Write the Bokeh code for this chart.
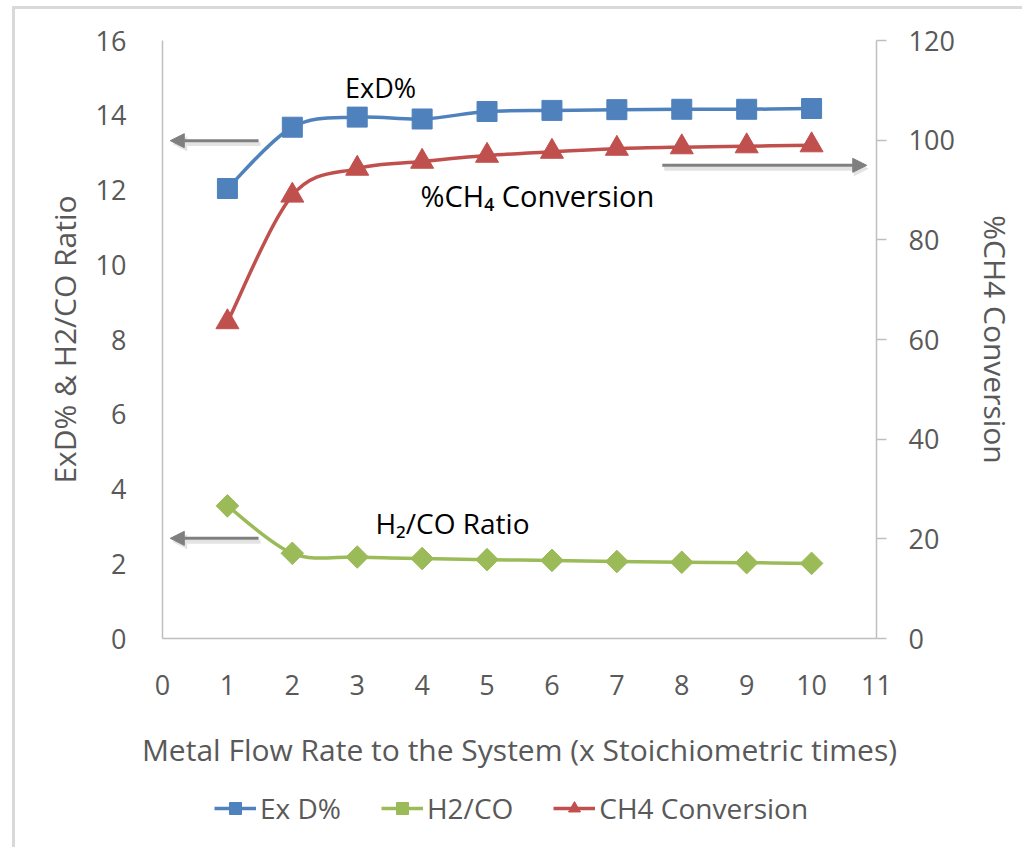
from bokeh.plotting import figure
from bokeh.models import (Range1d, LinearAxis, FixedTicker, Legend, LegendItem,
                          Arrow, NormalHead, Label, ColumnDataSource)
from bokeh.layouts import column
from bokeh.embed import file_html
from bokeh.resources import INLINE
import math

# ---- data ----
flow_rate = [1, 2, 3, 4, 5, 6, 7, 8, 9, 10]
exd_pct = [12.04, 13.68, 13.95, 13.90, 14.10, 14.13, 14.15, 14.16, 14.16, 14.18]
h2_co = [3.55, 2.28, 2.18, 2.14, 2.11, 2.09, 2.06, 2.04, 2.03, 2.01]
ch4_conv = [63.5, 88.9, 94.3, 95.7, 96.9, 97.7, 98.3, 98.6, 98.8, 99.0]

x_ticks = list(range(0, 12))
left_ticks = list(range(0, 17, 2))
right_ticks = list(range(0, 121, 20))

series_names = ["Ex D%", "H2/CO", "CH4 Conversion"]
x_title = "Metal Flow Rate to the System (x Stoichiometric times)"
left_title = "ExD% & H2/CO Ratio"
right_title = "%CH4 Conversion"

BLUE = "#4f81bd"
GREEN = "#9bbb59"
RED = "#c0504d"
AXIS_GRAY = "#bfbfbf"
TEXT_GRAY = "#595959"
FONT = "Open Sans"


def smooth_source(xs, ys):
    """Bezier segments (Catmull-Rom style) passing through the data points."""
    n = len(xs)
    d = dict(x0=[], y0=[], x1=[], y1=[], cx0=[], cy0=[], cx1=[], cy1=[])
    for i in range(n - 1):
        im1 = max(i - 1, 0)
        ip2 = min(i + 2, n - 1)
        d["x0"].append(xs[i]); d["y0"].append(ys[i])
        d["x1"].append(xs[i + 1]); d["y1"].append(ys[i + 1])
        d["cx0"].append(xs[i] + (xs[i + 1] - xs[im1]) / 6)
        d["cy0"].append(ys[i] + (ys[i + 1] - ys[im1]) / 6)
        d["cx1"].append(xs[i + 1] - (xs[ip2] - xs[i]) / 6)
        d["cy1"].append(ys[i + 1] - (ys[ip2] - ys[i]) / 6)
    return ColumnDataSource(d)


p = figure(frame_width=714, frame_height=598, x_range=Range1d(0, 11),
           y_range=Range1d(0, 16),
           output_backend="svg", toolbar_location=None,
           min_border_left=162, min_border_right=146, min_border_top=40,
           min_border_bottom=150)
p.extra_y_ranges = {"right": Range1d(0, 120)}
p.outline_line_color = None
p.xgrid.visible = False
p.ygrid.visible = False
p.background_fill_color = None
p.border_fill_color = None
p.styles = {
    "background-color": "white",
    "background-image": "linear-gradient(#d9d9d9, #d9d9d9), linear-gradient(#d9d9d9, #d9d9d9)",
    "background-size": "3px 100%, 100% 3px",
    "background-position": "12px 6px, 12px 6px",
    "background-repeat": "no-repeat",
}

# axes
xa = p.xaxis[0]
xa.ticker = FixedTicker(ticks=x_ticks)
ya = p.yaxis[0]
ya.ticker = FixedTicker(ticks=left_ticks)
for ax in (xa, ya):
    ax.axis_line_color = AXIS_GRAY
    ax.axis_line_width = 1.5
    ax.major_tick_line_color = None
    ax.minor_tick_line_color = None
    ax.major_label_text_font = FONT
    ax.major_label_text_font_size = "27px"
    ax.major_label_text_color = TEXT_GRAY
    ax.axis_label_text_font = FONT
    ax.axis_label_text_font_size = "30px"
    ax.axis_label_text_color = TEXT_GRAY
    ax.axis_label_text_font_style = "normal"
xa.axis_label = x_title
xa.major_label_standoff = 30
xa.axis_label_standoff = 31
ya.axis_label = left_title
ya.major_label_standoff = 30
ya.axis_label_standoff = 8

ra = LinearAxis(y_range_name="right", ticker=FixedTicker(ticks=right_ticks),
                axis_label=right_title)
ra.axis_line_color = AXIS_GRAY
ra.axis_line_width = 1.5
ra.major_tick_line_color = AXIS_GRAY
ra.major_tick_line_width = 1.5
ra.major_tick_out = 10
ra.major_tick_in = 0
ra.minor_tick_line_color = None
ra.major_label_text_font = FONT
ra.major_label_text_font_size = "27px"
ra.major_label_text_color = TEXT_GRAY
ra.major_label_standoff = 22
ra.axis_label_text_font = FONT
ra.axis_label_text_font_size = "30px"
ra.axis_label_text_color = TEXT_GRAY
ra.axis_label_text_font_style = "normal"
ra.axis_label_standoff = 17
p.add_layout(ra, "right")

# series
p.bezier(x0="x0", y0="y0", x1="x1", y1="y1", cx0="cx0", cy0="cy0",
         cx1="cx1", cy1="cy1", source=smooth_source(flow_rate, exd_pct),
         line_color=BLUE, line_width=3.5)
p.scatter(flow_rate, exd_pct, marker="square", size=20, fill_color=BLUE,
          line_color=BLUE)
p.bezier(x0="x0", y0="y0", x1="x1", y1="y1", cx0="cx0", cy0="cy0",
         cx1="cx1", cy1="cy1", source=smooth_source(flow_rate, h2_co),
         line_color=GREEN, line_width=3.5)
p.scatter(flow_rate, h2_co, marker="square", angle=math.pi / 4, size=16,
          fill_color=GREEN, line_color=GREEN)
p.bezier(x0="x0", y0="y0", x1="x1", y1="y1", cx0="cx0", cy0="cy0",
         cx1="cx1", cy1="cy1", source=smooth_source(flow_rate, ch4_conv),
         line_color=RED, line_width=3.5, y_range_name="right")
p.scatter(flow_rate, ch4_conv, marker="triangle", size=23, fill_color=RED,
          line_color=RED, y_range_name="right")

# annotation arrows (soft shadow first, then the arrow)
ARROW_GRAY = "#7f7f7f"
arrows = [(1.48, 13.32, 0.12, 13.32), (7.70, 12.66, 10.85, 12.66),
          (1.48, 2.68, 0.12, 2.68)]
for xs, ys, xe, ye in arrows:
    p.add_layout(Arrow(x_start=xs + 0.03, y_start=ys - 0.09, x_end=xe + 0.03,
                       y_end=ye - 0.09, line_color="#d0d0d0", line_width=4,
                       line_alpha=0.6,
                       end=NormalHead(size=15, fill_color="#d0d0d0",
                                      fill_alpha=0.6, line_color=None)))
    p.add_layout(Arrow(x_start=xs, y_start=ys, x_end=xe, y_end=ye,
                       line_color=ARROW_GRAY, line_width=3,
                       end=NormalHead(size=14, fill_color=ARROW_GRAY,
                                      line_color=ARROW_GRAY)))

# annotation texts
for txt, lx, ly, align, fs in [("ExD%", 3.36, 14.74, "center", "27px"),
                               ("%CH\u2084 Conversion", 3.975, 11.85, "left", "29px"),
                               ("H\u2082/CO Ratio", 3.28, 3.10, "left", "28px")]:
    p.add_layout(Label(x=lx, y=ly, text=txt, text_align=align,
                       text_baseline="middle", text_font=FONT,
                       text_font_size=fs, text_color="black"))

# ---- legend strip (its own small figure under the chart) ----
lg = figure(width=1022, height=59, x_range=Range1d(-20, -19),
            y_range=Range1d(-20, -19), output_backend="svg",
            toolbar_location=None, min_border=0,
            x_axis_location=None, y_axis_location=None)
lg.outline_line_color = None
lg.xgrid.visible = False
lg.ygrid.visible = False
lg.background_fill_color = None
lg.border_fill_color = None
lg.styles = {
    "background-color": "white",
    "background-image": "linear-gradient(#d9d9d9, #d9d9d9)",
    "background-size": "3px 100%",
    "background-position": "12px 0px",
    "background-repeat": "no-repeat",
}
g1 = lg.line(flow_rate, exd_pct, line_color=BLUE, line_width=3.5)
s1 = lg.scatter(flow_rate, exd_pct, marker="square", size=20, fill_color=BLUE,
                line_color=BLUE)
g2 = lg.line(flow_rate, h2_co, line_color=GREEN, line_width=3.5)
s2 = lg.scatter(flow_rate, h2_co, marker="square", angle=math.pi / 4, size=16,
                fill_color=GREEN, line_color=GREEN)
g3 = lg.line(flow_rate, ch4_conv, line_color=RED, line_width=3.5)
s3 = lg.scatter(flow_rate, ch4_conv, marker="triangle", size=23, fill_color=RED,
                line_color=RED)
legend = Legend(items=[LegendItem(label=series_names[0], renderers=[g1, s1]),
                       LegendItem(label=series_names[1], renderers=[g2, s2]),
                       LegendItem(label=series_names[2], renderers=[g3, s3])],
                orientation="horizontal", location=(52, 20),
                label_text_font=FONT, label_text_font_size="28px",
                label_text_color=TEXT_GRAY, glyph_width=42, glyph_height=30,
                label_standoff=4, spacing=40, border_line_color=None,
                background_fill_alpha=0, margin=0, padding=2)
lg.add_layout(legend, "center")

layout = column(p, lg, spacing=0)
open("out.html", "w").write(file_html(layout, INLINE))
